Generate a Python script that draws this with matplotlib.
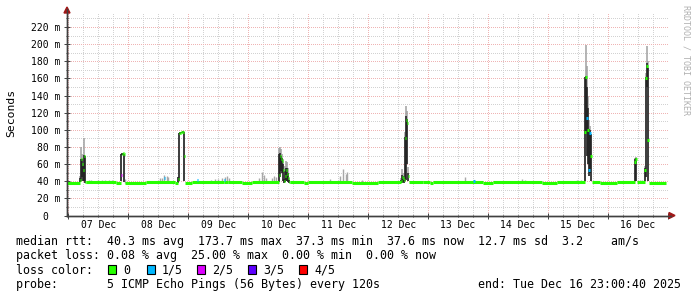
import matplotlib
matplotlib.use("Agg")
import matplotlib.pyplot as plt
from matplotlib.patches import Rectangle, Polygon
import numpy as np

plt.rcParams['font.family'] = ['DejaVu Sans Mono']

# ---------------- data ----------------
day_labels = ["07 Dec", "08 Dec", "09 Dec", "10 Dec", "11 Dec",
              "12 Dec", "13 Dec", "14 Dec", "15 Dec", "16 Dec"]
y_ticks = [0, 20, 40, 60, 80, 100, 120, 140, 160, 180, 200, 220]
y_tick_labels = ["0  ", "20 m", "40 m", "60 m", "80 m", "100 m", "120 m",
                 "140 m", "160 m", "180 m", "200 m", "220 m"]

loss_colors = ["#26ff00", "#00b8ff", "#dd00ff", "#5e00ff", "#ff0000"]
loss_labels = ["0", "1/5", "2/5", "3/5", "4/5"]

# baseline median (hours since 07 Dec 00:00): segment start, end, level (ms)
base_start = [-1.0, 7.0, 19.0, 22.6, 31.0, 42.6, 46.6, 49.5, 62.5, 64.0, 69.5,
              73.5, 88.6, 94.5, 96.0, 113.5, 124.0, 136.2, 142.0, 144.7, 145.9,
              166.0, 170.0, 189.4, 195.4, 209.4, 212.7, 219.5, 227.4, 232.2]
base_end = [4.6, 19.0, 21.0, 31.0, 42.6, 43.8, 49.5, 62.5, 64.0, 69.5, 73.5,
            84.2, 94.5, 96.0, 113.5, 124.0, 133.0, 142.0, 144.7, 145.9, 166.0,
            170.0, 189.4, 195.4, 206.6, 212.7, 219.5, 226.6, 230.6, 239.0]
base_level = [37.7, 38.7, 37.7, 37.5, 38.6, 37.7, 37.7, 38.6, 39.6, 38.6, 37.7,
              38.6, 38.6, 37.7, 38.6, 37.8, 38.6, 38.6, 39.6, 37.7, 38.6,
              37.7, 38.6, 37.7, 38.6, 38.6, 37.7, 38.6, 38.6, 37.9]

# spike samples: time (h), median, smoke low, dense-smoke top, smoke top, loss index
spike_t = [4.8, 5.2, 5.6, 6.0, 6.4, 6.8,
           21.2, 21.6, 22.0, 22.4,
           44.0, 44.4, 44.8, 45.2, 45.6, 46.0, 46.4,
           84.4, 84.8, 85.2, 85.6, 86.0, 86.4, 86.8, 87.2, 87.6, 88.0, 88.4,
           133.2, 133.6, 134.0, 134.4, 134.8, 135.2, 135.6, 136.0,
           206.8, 207.2, 207.6, 208.0, 208.4, 208.8, 209.2,
           226.8, 227.2,
           230.8, 231.2, 231.6, 232.0]
spike_med = [42, 66, 60, 53, 70, 39,
             47, 72, 72.5, 72,
             43, 96, 96, 97, 97, 98, 70,
             47, 70, 66, 64, 53, 40, 46, 53, 49, 44, 39,
             40, 45, 44, 41, 90, 112, 108, 46,
             98, 162, 114, 100, 53, 96, 69,
             62, 66,
             53, 160, 174, 88]
spike_lo = [39, 40, 45, 40, 40, 38,
            40, 71, 71, 39,
            38, 40, 95, 96, 96, 97, 40,
            39, 45, 52, 50, 40, 38, 39, 40, 40, 39, 38,
            38, 38, 39, 38, 40, 42, 60, 40,
            40, 95, 70, 60, 46, 50, 40,
            40, 40,
            40, 45, 150, 40]
spike_dark = [44, 66, 66, 58, 71, 70,
              72, 73, 73, 72,
              45, 96, 97, 98, 98, 99, 98,
              72, 73, 70, 67, 60, 43, 52, 56, 55, 50, 41,
              42, 47, 46, 41, 92, 116, 113, 50,
              162, 163, 150, 125, 101, 100, 95,
              66, 67,
              56, 162, 178, 172]
spike_max = [46, 80, 72, 62, 90, 70,
             72, 73, 73, 72,
             45, 96, 97, 98, 98, 99, 98,
             79, 80, 78, 72, 66, 47, 58, 64, 62, 55, 44,
             44, 54, 50, 43, 98, 128, 122, 57,
             162, 199, 175, 140, 112, 104, 95,
             67, 68,
             58, 166, 198, 180]
spike_loss = [0, 0, 0, 0, 0, 0,
              2, 0, 0, 0,
              0, 0, 0, 0, 0, 0, 0,
              0, 0, 0, 0, 0, 0, 0, 0, 0, 0, 0,
              0, 0, 0, 0, 0, 0, 0, 0,
              0, 0, 1, 0, 1, 1, 0,
              0, 0,
              0, 0, 0, 0]

# small smoke bumps above the baseline: time (h), smoke top (ms)
bump_t = [8.2, 9.0, 12.0, 13.6, 14.8, 16.4, 17.6, 22.8, 36.5, 37.5, 38.4,
          39.6, 40.0, 57.0, 58.6, 60.0, 61.4, 62.8, 63.6, 64.4, 76.4, 77.6,
          78.4, 79.2, 81.6, 82.4, 83.2, 104.6, 108.8, 110.0, 111.2, 111.6,
          117.6, 158.8, 181.6, 182.8, 203.6, 205.2, 228.8, 229.6]
bump_top = [41.5, 41, 41.5, 42, 42, 41.5, 42, 42.5, 43.5, 44, 47,
            46, 45, 42, 43, 43, 43.5, 45, 46, 44, 44, 51,
            47, 44, 44, 46, 45, 43, 46, 54, 49, 51,
            42, 45, 42.5, 42, 41, 41.5, 41, 41.5]

# isolated loss markers on the median: time (h), median (ms), loss index
mark_t = [38.4, 51.6, 62.4, 162.4]
mark_v = [44, 41, 42, 40]
mark_loss = [1, 1, 1, 1]

# ---------------- figure ----------------
W, H = 697, 297
fig = plt.figure(figsize=(W / 100, H / 100), dpi=100, facecolor="white")

L, R, B, T = 67, 668, 215.5, 13
ax = fig.add_axes([L / W, 1 - B / H, (R - L) / W, (B - T) / H])
ax.set_facecolor("white")

px_h = 0.4   # hours per pixel
x0_px = 68.3  # pixel of 07 Dec 00:00
ax.set_xlim((L - x0_px) * px_h, (R - x0_px) * px_h)
ax.set_ylim(0, (B - T) / 0.857)

# grid
ax.set_xticks(np.arange(0, 241, 24))
ax.set_xticks(np.arange(0, 241, 6), minor=True)
ax.set_yticks(y_ticks, y_tick_labels)
ax.set_yticks(np.arange(0, 240, 10), minor=True)
ax.set_xticklabels([])
ax.grid(which="major", color="#efb4b4", linestyle=(0, (1, 1.6)),
        linewidth=0.72, antialiased=False)
ax.grid(which="minor", color="#d2d2d2", linestyle=(0, (1, 1.6)),
        linewidth=0.72, antialiased=False)
ax.set_axisbelow(True)

axis_col = "#404040"
for s in ["top", "right"]:
    ax.spines[s].set_visible(False)
for s in ["left", "bottom"]:
    ax.spines[s].set_color(axis_col)
    ax.spines[s].set_linewidth(1.0)
ax.tick_params(which="major", direction="inout", length=4, width=0.7,
               color=axis_col, labelsize=7, pad=2.5)
ax.tick_params(which="minor", direction="inout", length=2, width=0.7,
               color=axis_col)

for i, lab in enumerate(day_labels):
    ax.annotate(lab, xy=(12 + 24 * i, 0), xycoords=("data", "axes fraction"),
                xytext=(0, -6.5), textcoords="offset points",
                ha="center", va="center", fontsize=7)

# smoke
st = np.array(spike_t)
ax.vlines(st, spike_lo, spike_max, color="#a0a0a0", linewidth=1.1, zorder=2)
ax.vlines(st, spike_lo, spike_dark, color="#1e1e1e", linewidth=1.1, zorder=3)
ax.vlines(bump_t, 38, bump_top, color="#a8a8a8", linewidth=1.0, zorder=2)

# median
ax.hlines(base_level, base_start, base_end, color=loss_colors[0],
          linewidth=2.2, zorder=4)
ax.hlines(spike_med, st - 0.25, st + 0.25,
          colors=[loss_colors[k] for k in spike_loss], linewidth=2.2, zorder=5)
mt = np.array(mark_t)
ax.hlines(mark_v, mt - 0.25, mt + 0.25,
          colors=[loss_colors[k] for k in mark_loss], linewidth=2.2, zorder=5)

# axis extensions and arrows
arrow_col = "#a01818"
fig.add_artist(plt.Line2D([L / W, L / W], [1 - B / H, 1 - 9 / H],
                          color=axis_col, linewidth=1.0))
fig.add_artist(plt.Line2D([L / W, 671 / W], [1 - B / H, 1 - B / H],
                          color=axis_col, linewidth=1.0))
fig.add_artist(Polygon([[(L - 3) / W, 1 - 13 / H], [(L + 3) / W, 1 - 13 / H],
                        [L / W, 1 - 7 / H]], closed=True,
                       transform=fig.transFigure, color=arrow_col))
fig.add_artist(Polygon([[669 / W, 1 - (B - 3) / H], [669 / W, 1 - (B + 3) / H],
                        [675 / W, 1 - B / H]], closed=True,
                       transform=fig.transFigure, color=arrow_col))

# labels
fig.text(11 / W, 1 - 113 / H, "Seconds", rotation=90, ha="center",
         va="center", fontsize=8.2)
fig.text(686 / W, 1 - 60 / H, "RRDTOOL / TOBI OETIKER", rotation=270,
         ha="center", va="center", fontsize=6, color="#b0b0b0")

fs = 8.4
lx = 16 / W
fig.text(lx, 1 - 245.5 / H,
         "median rtt:  40.3 ms avg  173.7 ms max  37.3 ms min  37.6 ms now  12.7 ms sd  3.2    am/s",
         ha="left", va="baseline", fontsize=fs)
fig.text(lx, 1 - 259.5 / H,
         "packet loss: 0.08 % avg  25.00 % max  0.00 % min  0.00 % now",
         ha="left", va="baseline", fontsize=fs)
fig.text(lx, 1 - 273.5 / H, "loss color:", ha="left", va="baseline", fontsize=fs)
box_x = [108, 147, 197, 248, 299]
for bx, col, lab in zip(box_x, loss_colors, loss_labels):
    fig.add_artist(Rectangle((bx / W, 1 - 273.5 / H), 8 / W, 9 / H,
                             transform=fig.transFigure, facecolor=col,
                             edgecolor="black", linewidth=0.8))
    fig.text((bx + 15) / W, 1 - 273.5 / H, lab, ha="left", va="baseline",
             fontsize=fs)
fig.text(lx, 1 - 288 / H, "probe:       5 ICMP Echo Pings (56 Bytes) every 120s",
         ha="left", va="baseline", fontsize=fs)
fig.text(681 / W, 1 - 288 / H, "end: Tue Dec 16 23:00:40 2025",
         ha="right", va="baseline", fontsize=fs)

fig.savefig("out.png", dpi=100, facecolor="white")
